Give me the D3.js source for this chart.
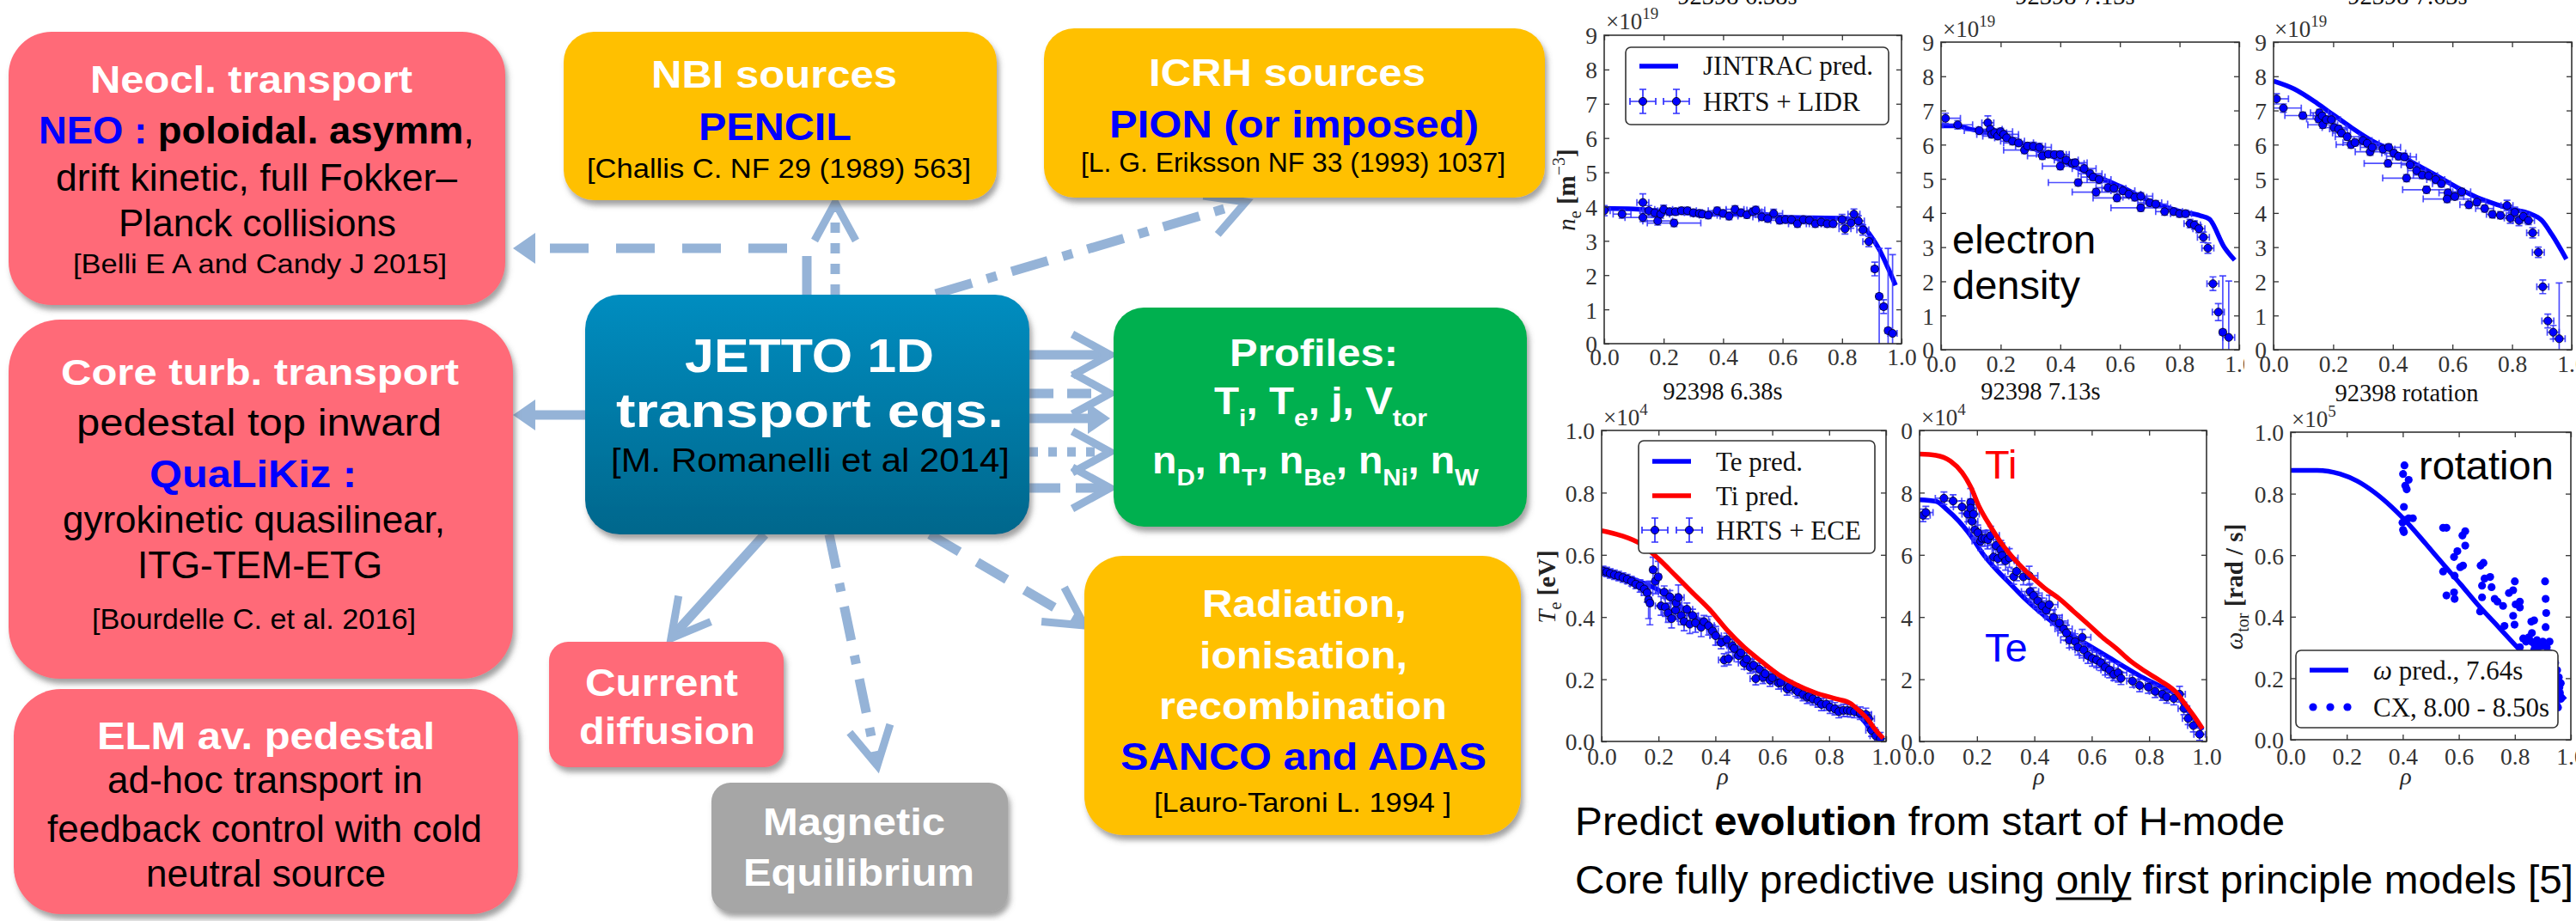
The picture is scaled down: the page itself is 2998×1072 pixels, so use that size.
<!DOCTYPE html>
<html><head><meta charset="utf-8">
<script src="https://cdn.jsdelivr.net/npm/d3@7"></script>
<style>html,body{margin:0;padding:0;background:#fff;overflow:hidden}svg{display:block}</style>
</head><body>
<script>
// ================= DATA =================
const rhoTicks=[0,0.2,0.4,0.6,0.8,1.0];
const rhoTickLabels=["0.0","0.2","0.4","0.6","0.8","1.0"];
const neTicks=[0,1,2,3,4,5,6,7,8,9];
const neTickLabels=["0","1","2","3","4","5","6","7","8","9"];
const teTicks=[0,0.2,0.4,0.6,0.8,1.0];
const teTickLabels=["0.0","0.2","0.4","0.6","0.8","1.0"];
const te2Ticks=[0,2,4,6,8,10];
const te2TickLabels=["0","2","4","6","8","0"];
const omTicks=[0,0.2,0.4,0.6,0.8,1.0];
const omTickLabels=["0.0","0.2","0.4","0.6","0.8","1.0"];
const topTitles=["92398 6.38s","92398 7.13s","92398 7.63s"];
const bottomTitles=["92398 6.38s","92398 7.13s","92398 rotation"];
const multipliers=["19","19","19","4","4","5"];

// electron density, 6.38 s  [rho, n/1e19]
const ne638Pred=[[0,3.95],[0.1,3.93],[0.2,3.86],[0.3,3.8],[0.4,3.78],[0.5,3.82],[0.55,3.76],[0.6,3.69],[0.7,3.67],[0.8,3.66],[0.84,3.6],[0.87,3.42],[0.9,3.1],[0.925,2.75],[0.955,2.2],[0.98,1.7]];
// [rho, n, xerr, yerr]
const ne638Data=[[0.0,3.88,0.02,0.15],[0.06,3.78,0.03,0.12],[0.13,4.12,0.02,0.25],[0.13,3.68,0.06,0.12],[0.15,3.88,0.03,0.15],[0.17,3.82,0.04,0.12],[0.18,3.58,0.05,0.12],[0.19,3.78,0.03,0.12],[0.2,3.92,0.03,0.12],[0.22,3.85,0.03,0.1],[0.235,3.52,0.09,0.1],[0.24,3.85,0.03,0.1],[0.26,3.88,0.03,0.1],[0.28,3.88,0.03,0.1],[0.3,3.82,0.03,0.1],[0.32,3.8,0.03,0.1],[0.33,3.78,0.03,0.1],[0.35,3.75,0.03,0.1],[0.38,3.88,0.03,0.1],[0.4,3.8,0.03,0.1],[0.42,3.72,0.03,0.1],[0.44,3.92,0.03,0.1],[0.46,3.82,0.03,0.1],[0.48,3.76,0.03,0.1],[0.5,3.85,0.03,0.1],[0.51,3.9,0.03,0.1],[0.53,3.7,0.03,0.1],[0.55,3.65,0.03,0.1],[0.57,3.8,0.03,0.12],[0.59,3.6,0.03,0.1],[0.61,3.62,0.03,0.1],[0.63,3.62,0.03,0.1],[0.65,3.5,0.03,0.1],[0.67,3.62,0.03,0.1],[0.69,3.6,0.03,0.1],[0.71,3.5,0.02,0.1],[0.73,3.55,0.02,0.1],[0.75,3.5,0.02,0.1],[0.77,3.5,0.02,0.1],[0.8,3.62,0.02,0.15],[0.81,3.35,0.02,0.15],[0.83,3.52,0.02,0.15],[0.84,3.78,0.02,0.15],[0.855,3.58,0.02,0.15],[0.87,3.32,0.02,0.15],[0.89,2.98,0.02,0.15],[0.91,2.18,0.01,0.2],[0.925,1.38,0.01,1.4],[0.94,1.08,0.01,0.2],[0.955,0.38,0.01,2.4],[0.97,0.3,0.015,2.3]];

// electron density, 7.13 s
const ne713Pred=[[0,6.55],[0.05,6.55],[0.1,6.45],[0.2,6.25],[0.3,5.92],[0.4,5.55],[0.5,5.15],[0.6,4.78],[0.7,4.35],[0.8,4.05],[0.87,3.92],[0.9,3.82],[0.95,3.0],[0.985,2.62]];
const ne713Data=[[0.015,6.77,0.05,0.15],[0.056,6.58,0.05,0.12],[0.128,6.41,0.05,0.1],[0.157,6.64,0.02,0.2],[0.165,6.45,0.04,0.1],[0.17,6.3,0.05,0.1],[0.18,6.35,0.04,0.1],[0.19,6.25,0.05,0.1],[0.2,6.38,0.04,0.1],[0.21,6.3,0.05,0.1],[0.22,6.2,0.04,0.1],[0.24,6.1,0.04,0.1],[0.26,6.05,0.05,0.1],[0.28,5.84,0.07,0.1],[0.29,5.96,0.04,0.1],[0.31,5.95,0.04,0.12],[0.33,5.92,0.04,0.12],[0.34,5.67,0.05,0.1],[0.36,5.72,0.04,0.1],[0.38,5.71,0.04,0.1],[0.4,5.71,0.03,0.1],[0.4,5.37,0.06,0.1],[0.42,5.55,0.04,0.1],[0.44,5.45,0.04,0.1],[0.45,5.47,0.04,0.1],[0.46,4.89,0.1,0.1],[0.48,5.3,0.04,0.1],[0.5,5.15,0.04,0.1],[0.51,5.05,0.04,0.1],[0.53,4.98,0.04,0.12],[0.52,4.61,0.08,0.1],[0.56,4.74,0.04,0.1],[0.58,4.72,0.04,0.1],[0.59,4.44,0.08,0.1],[0.61,4.65,0.04,0.1],[0.63,4.55,0.04,0.1],[0.65,4.46,0.04,0.1],[0.67,4.15,0.1,0.1],[0.67,4.49,0.04,0.1],[0.7,4.3,0.04,0.1],[0.72,4.26,0.04,0.1],[0.75,4.04,0.03,0.1],[0.78,4.04,0.03,0.1],[0.8,3.98,0.03,0.1],[0.82,3.98,0.02,0.1],[0.835,3.69,0.02,0.12],[0.85,3.65,0.02,0.12],[0.865,3.54,0.02,0.12],[0.88,3.29,0.02,0.15],[0.895,2.97,0.02,0.15],[0.912,1.93,0.02,0.2],[0.93,1.1,0.02,0.25],[0.945,0.51,0.01,1.65],[0.965,0.36,0.02,1.65]];

// electron density, 7.63 s
const ne763Pred=[[0,7.86],[0.069,7.63],[0.146,7.21],[0.199,6.88],[0.261,6.5],[0.329,6.12],[0.396,5.83],[0.472,5.45],[0.549,5.08],[0.617,4.74],[0.684,4.45],[0.751,4.24],[0.799,4.11],[0.857,3.99],[0.9,3.78],[0.934,3.36],[0.982,2.65]];
const ne763Data=[[0.01,7.34,0.04,0.15],[0.033,7.07,0.06,0.12],[0.098,6.85,0.06,0.1],[0.154,6.93,0.03,0.1],[0.151,6.75,0.04,0.1],[0.163,6.84,0.03,0.1],[0.165,6.58,0.05,0.1],[0.177,6.73,0.03,0.1],[0.194,6.73,0.03,0.1],[0.203,6.5,0.04,0.1],[0.218,6.46,0.03,0.1],[0.228,6.34,0.03,0.1],[0.247,6.23,0.04,0.1],[0.26,6.0,0.05,0.1],[0.273,6.06,0.04,0.1],[0.3,6.12,0.03,0.1],[0.314,6.04,0.04,0.1],[0.324,5.79,0.05,0.1],[0.331,5.92,0.04,0.1],[0.367,5.87,0.04,0.1],[0.384,5.45,0.08,0.1],[0.386,5.92,0.04,0.1],[0.403,5.75,0.04,0.1],[0.419,5.66,0.04,0.1],[0.439,5.64,0.04,0.1],[0.446,5.02,0.08,0.1],[0.458,5.41,0.03,0.1],[0.48,5.24,0.03,0.1],[0.499,5.11,0.03,0.1],[0.513,4.68,0.08,0.1],[0.52,5.09,0.03,0.1],[0.544,4.98,0.03,0.1],[0.563,4.86,0.03,0.1],[0.585,4.59,0.03,0.1],[0.582,4.41,0.08,0.1],[0.608,4.48,0.03,0.1],[0.631,4.62,0.03,0.1],[0.655,4.24,0.03,0.1],[0.682,4.32,0.03,0.1],[0.708,4.13,0.03,0.1],[0.734,3.96,0.02,0.1],[0.761,3.93,0.02,0.1],[0.783,4.22,0.02,0.15],[0.794,3.85,0.02,0.15],[0.809,4.02,0.02,0.15],[0.823,3.78,0.02,0.15],[0.838,3.9,0.02,0.12],[0.855,3.78,0.02,0.12],[0.869,3.42,0.02,0.15],[0.888,2.85,0.02,0.15],[0.903,1.84,0.02,0.2],[0.92,0.84,0.02,0.2],[0.938,0.51,0.02,0.2],[0.958,0.32,0.02,1.63]];

// temperatures, 6.38 s  [rho, T/1e4 eV]
const te638Pred=[[0,0.547],[0.119,0.519],[0.199,0.487],[0.28,0.432],[0.361,0.377],[0.441,0.312],[0.522,0.252],[0.602,0.206],[0.683,0.165],[0.763,0.128],[0.844,0.102],[0.894,0.091],[0.924,0.064],[0.954,0.027],[0.985,0.004]];
const ti638Pred=[[0,0.678],[0.068,0.662],[0.139,0.634],[0.199,0.588],[0.26,0.533],[0.32,0.478],[0.381,0.423],[0.441,0.358],[0.501,0.303],[0.562,0.257],[0.622,0.215],[0.683,0.183],[0.753,0.156],[0.824,0.137],[0.874,0.123],[0.904,0.1],[0.934,0.073],[0.964,0.036],[0.99,0.01]];
const te638Data=[[0.005,0.548,0.02,0.015],[0.018,0.545,0.02,0.015],[0.03,0.54,0.02,0.015],[0.045,0.536,0.02,0.015],[0.06,0.532,0.02,0.015],[0.075,0.527,0.02,0.015],[0.09,0.522,0.02,0.015],[0.105,0.515,0.02,0.015],[0.12,0.506,0.02,0.015],[0.135,0.5,0.02,0.02],[0.15,0.49,0.02,0.02],[0.16,0.478,0.02,0.03],[0.165,0.455,0.01,0.06],[0.17,0.445,0.01,0.07],[0.181,0.552,0.01,0.04],[0.189,0.515,0.01,0.04],[0.199,0.529,0.01,0.05],[0.209,0.436,0.02,0.03],[0.22,0.48,0.02,0.02],[0.224,0.432,0.02,0.03],[0.234,0.413,0.02,0.03],[0.24,0.465,0.02,0.02],[0.246,0.395,0.02,0.03],[0.26,0.422,0.02,0.03],[0.262,0.445,0.02,0.02],[0.27,0.463,0.02,0.04],[0.28,0.405,0.02,0.03],[0.29,0.386,0.02,0.03],[0.3,0.425,0.02,0.02],[0.31,0.377,0.02,0.03],[0.32,0.405,0.02,0.02],[0.33,0.381,0.02,0.03],[0.35,0.367,0.02,0.03],[0.36,0.385,0.02,0.02],[0.376,0.372,0.02,0.03],[0.39,0.355,0.02,0.02],[0.401,0.34,0.02,0.03],[0.42,0.318,0.02,0.02],[0.431,0.262,0.02,0.02],[0.44,0.328,0.02,0.02],[0.446,0.266,0.02,0.02],[0.46,0.308,0.02,0.02],[0.466,0.299,0.02,0.03],[0.481,0.276,0.02,0.02],[0.49,0.285,0.02,0.02],[0.501,0.252,0.02,0.02],[0.51,0.265,0.02,0.02],[0.522,0.239,0.02,0.02],[0.535,0.245,0.02,0.02],[0.542,0.202,0.02,0.02],[0.555,0.232,0.02,0.02],[0.567,0.206,0.02,0.02],[0.575,0.218,0.02,0.02],[0.592,0.197,0.02,0.02],[0.6,0.205,0.02,0.02],[0.622,0.188,0.02,0.02],[0.63,0.19,0.02,0.02],[0.652,0.169,0.02,0.02],[0.66,0.176,0.02,0.02],[0.683,0.165,0.02,0.02],[0.69,0.16,0.02,0.02],[0.708,0.151,0.02,0.02],[0.723,0.142,0.02,0.02],[0.73,0.145,0.02,0.02],[0.743,0.137,0.02,0.02],[0.76,0.13,0.02,0.02],[0.773,0.119,0.02,0.02],[0.79,0.12,0.02,0.02],[0.803,0.11,0.02,0.02],[0.82,0.105,0.02,0.02],[0.834,0.096,0.02,0.02],[0.85,0.1,0.02,0.02],[0.864,0.1,0.02,0.02],[0.875,0.098,0.02,0.02],[0.889,0.096,0.02,0.02],[0.909,0.091,0.02,0.02],[0.929,0.087,0.02,0.02],[0.939,0.073,0.02,0.02],[0.949,0.036,0.02,0.02],[0.964,0.018,0.02,0.02],[0.98,0.009,0.02,0.02]];

// temperatures, 7.13 s  [rho, T/1e4 eV]
const te713Pred=[[0,7.77],[0.057,7.72],[0.097,7.44],[0.137,7.08],[0.178,6.62],[0.218,6.07],[0.268,5.52],[0.317,5.06],[0.367,4.59],[0.417,4.18],[0.467,3.81],[0.517,3.49],[0.567,3.21],[0.617,2.94],[0.667,2.66],[0.717,2.38],[0.767,2.11],[0.816,1.88],[0.866,1.65],[0.896,1.51],[0.926,1.1],[0.956,0.73],[0.986,0.36]];
const ti713Pred=[[0,9.24],[0.057,9.2],[0.108,9.01],[0.148,8.65],[0.178,8.19],[0.208,7.54],[0.248,6.9],[0.287,6.35],[0.337,5.79],[0.387,5.33],[0.437,4.92],[0.487,4.59],[0.537,4.18],[0.587,3.77],[0.637,3.35],[0.687,2.98],[0.737,2.57],[0.787,2.25],[0.836,1.97],[0.896,1.56],[0.926,1.19],[0.956,0.82],[0.986,0.41]];
const te713Data=[[0.012,7.27,0.025,0.2],[0.022,7.36,0.025,0.2],[0.085,7.82,0.03,0.2],[0.117,7.73,0.03,0.2],[0.148,7.54,0.03,0.2],[0.168,7.31,0.02,0.25],[0.178,7.68,0.01,0.45],[0.178,7.5,0.02,0.3],[0.183,7.08,0.02,0.25],[0.188,7.31,0.02,0.3],[0.193,6.8,0.02,0.25],[0.203,6.71,0.03,0.25],[0.213,6.44,0.03,0.3],[0.218,6.53,0.03,0.25],[0.228,6.53,0.03,0.25],[0.238,6.49,0.03,0.3],[0.248,6.62,0.03,0.3],[0.258,5.93,0.03,0.3],[0.266,6.3,0.03,0.3],[0.273,5.88,0.03,0.3],[0.283,6.16,0.03,0.3],[0.288,5.98,0.03,0.3],[0.3,5.81,0.03,0.3],[0.313,5.9,0.03,0.3],[0.328,5.3,0.03,0.25],[0.338,5.47,0.03,0.3],[0.362,5.29,0.03,0.25],[0.382,5.33,0.03,0.3],[0.385,4.82,0.03,0.25],[0.397,4.69,0.03,0.25],[0.412,4.52,0.03,0.25],[0.427,4.36,0.03,0.25],[0.442,4.22,0.03,0.25],[0.452,4.4,0.03,0.3],[0.467,3.99,0.03,0.25],[0.487,3.81,0.03,0.25],[0.502,3.62,0.03,0.25],[0.512,3.49,0.03,0.25],[0.522,3.26,0.03,0.25],[0.542,3.21,0.03,0.25],[0.552,3.03,0.03,0.25],[0.567,3.35,0.03,0.25],[0.572,2.94,0.03,0.25],[0.587,2.76,0.03,0.25],[0.602,2.67,0.03,0.25],[0.617,2.62,0.03,0.25],[0.632,2.53,0.03,0.25],[0.647,2.39,0.03,0.25],[0.662,2.3,0.03,0.25],[0.677,2.16,0.03,0.2],[0.692,2.21,0.03,0.3],[0.702,2.03,0.03,0.2],[0.742,1.94,0.02,0.2],[0.767,1.8,0.02,0.2],[0.797,1.75,0.02,0.2],[0.821,1.61,0.02,0.2],[0.846,1.52,0.02,0.2],[0.861,1.43,0.02,0.2],[0.886,1.38,0.02,0.2],[0.906,1.52,0.02,0.25],[0.921,1.06,0.02,0.2],[0.936,0.74,0.02,0.2],[0.954,0.51,0.02,0.2],[0.976,0.23,0.02,0.2]];

// rotation [rho, omega/1e5 rad/s]
const omPred=[[0,0.876],[0.094,0.876],[0.176,0.864],[0.237,0.841],[0.299,0.804],[0.36,0.757],[0.421,0.701],[0.483,0.636],[0.544,0.571],[0.606,0.506],[0.667,0.44],[0.728,0.38],[0.79,0.319],[0.85,0.26],[0.9,0.21],[0.95,0.16],[0.98,0.13]];
const cxData=[[0.406,0.892],[0.401,0.864],[0.421,0.845],[0.409,0.826],[0.414,0.814],[0.404,0.757],[0.399,0.706],[0.401,0.682],[0.404,0.675],[0.421,0.72],[0.436,0.72],[0.41,0.715],[0.544,0.689],[0.556,0.689],[0.544,0.547],[0.556,0.469],[0.583,0.479],[0.585,0.458],[0.583,0.594],[0.595,0.613],[0.585,0.533],[0.605,0.561],[0.615,0.566],[0.623,0.678],[0.613,0.664],[0.623,0.631],[0.678,0.566],[0.688,0.575],[0.683,0.501],[0.683,0.463],[0.676,0.417],[0.692,0.524],[0.712,0.529],[0.717,0.496],[0.728,0.458],[0.738,0.449],[0.758,0.435],[0.763,0.37],[0.779,0.477],[0.794,0.486],[0.794,0.403],[0.799,0.374],[0.8,0.515],[0.803,0.44],[0.818,0.449],[0.818,0.43],[0.859,0.384],[0.869,0.388],[0.861,0.347],[0.908,0.515],[0.91,0.458],[0.912,0.412],[0.91,0.366],[0.83,0.329],[0.84,0.319],[0.85,0.333],[0.859,0.319],[0.879,0.324],[0.889,0.315],[0.9,0.319],[0.914,0.301],[0.924,0.282],[0.934,0.264],[0.944,0.25],[0.951,0.226],[0.957,0.203],[0.959,0.17],[0.961,0.152],[0.964,0.133],[0.949,0.114],[0.954,0.105],[0.964,0.184],[0.947,0.198],[0.944,0.16],[0.939,0.226],[0.818,0.301],[0.869,0.292],[0.884,0.301],[0.924,0.319],[0.87,0.31],[0.895,0.305]];

// ================= DIAGRAM CONTENT =================
// line spans: [text, style]  W=white bold, B=blue bold, K=black bold, k=black, s suffix = subscript
const diagramText={
 neocl:[[["Neocl. transport","W"]],[["NEO :","B"],[" poloidal. asymm","K"],[",","k"]],[["drift kinetic, full Fokker\u2013","k"]],[["Planck collisions","k"]],[["[Belli E A and Candy J 2015]","k"]]],
 core:[[["Core turb. transport","W"]],[["pedestal top inward","k"]],[["QuaLiKiz :","B"]],[["gyrokinetic quasilinear,","k"]],[["ITG-TEM-ETG","k"]],[["[Bourdelle C. et al. 2016]","k"]]],
 elm:[[["ELM av. pedestal","W"]],[["ad-hoc transport in","k"]],[["feedback control with cold","k"]],[["neutral source","k"]]],
 nbi:[[["NBI sources","W"]],[["PENCIL","B"]],[["[Challis C. NF 29 (1989) 563]","k"]]],
 icrh:[[["ICRH sources","W"]],[["PION (or imposed)","B"]],[["[L. G. Eriksson NF 33 (1993) 1037]","k"]]],
 jetto:[[["JETTO 1D","W"]],[["transport eqs.","W"]],[["[M. Romanelli et al 2014]","k"]]],
 profiles:[[["Profiles:","W"]],[["T","W"],["i","Ws"],[", T","W"],["e","Ws"],[", j, V","W"],["tor","Ws"]],[["n","W"],["D","Ws"],[", n","W"],["T","Ws"],[", n","W"],["Be","Ws"],[", n","W"],["Ni","Ws"],[", n","W"],["W","Ws"]]],
 radiation:[[["Radiation,","W"]],[["ionisation,","W"]],[["recombination","W"]],[["SANCO and ADAS","B"]],[["[Lauro-Taroni L. 1994 ]","k"]]],
 current:[[["Current","W"]],[["diffusion","W"]]],
 magnetic:[[["Magnetic","W"]],[["Equilibrium","W"]]]
};
const bottomLine1=[["Predict ",""],["evolution","b"],[" from start of H-mode",""]];
const bottomLine2="Core fully predictive using only first principle models [5]";

// ================= LAYOUT / STYLE =================
const W=2998,H=1072;
const SERIF="'Liberation Serif','DejaVu Serif',serif";
const SANS="'Liberation Sans',Arial,sans-serif";
const PINK='#FF6B78',ORANGE='#FFC000',GREEN='#00B050',GRAY='#A6A6A6',AC='#95B3D7';
const BLUE='#0000ff',RED='#ff0000',EB='#3030ff';
const TICKFS=27.5;

const svg=d3.select('body').append('svg').attr('width',W).attr('height',H);
const defs=svg.append('defs');
const flt=defs.append('filter').attr('id','shadow').attr('x','-10%').attr('y','-10%').attr('width','125%').attr('height','135%');
flt.append('feDropShadow').attr('dx',3).attr('dy',6).attr('stdDeviation',3).attr('flood-color','#555').attr('flood-opacity',0.55);
const lg=defs.append('linearGradient').attr('id','jgrad').attr('x1',0).attr('y1',0).attr('x2',0).attr('y2',1);
lg.append('stop').attr('offset','0%').attr('stop-color','#008DC0');
lg.append('stop').attr('offset','100%').attr('stop-color','#00678C');

// ---------- arrows ----------
const arrowSpecs=[
 {pts:[[939,343],[939,289],[622,289]],dash:'45,32',head:'tri',tip:[597,289]},
 {pts:[[972,343],[972,242]],dash:'12,12',head:'chev',tip:[972,236]},
 {pts:[[1089,342],[1442,238]],dash:'44,18,12,18',head:'chev',tip:[1450,235]},
 {pts:[[681,483],[622,483]],dash:null,head:'tri',tip:[597,483]},
 {pts:[[1198,413],[1286,413]],dash:null,head:'chev',tip:[1292,413]},
 {pts:[[1198,458],[1286,458]],dash:'28,16',head:'chev',tip:[1292,458]},
 {pts:[[1198,487],[1266,487]],dash:null,head:'tri',tip:[1292,487]},
 {pts:[[1198,526],[1286,526]],dash:'10,12',head:'chev',tip:[1292,526]},
 {pts:[[1198,568],[1286,568]],dash:'36,18',head:'chev',tip:[1292,568]},
 {pts:[[890,622],[785,738]],dash:null,head:'chev',tip:[781,743]},
 {pts:[[965,622],[1020,886]],dash:'40,18,10,18',head:'chev',tip:[1021,891]},
 {pts:[[1082,622],[1256,724]],dash:'40,24',head:'chev',tip:[1262,728]}
];
const ag=svg.append('g');
arrowSpecs.forEach(a=>{
  ag.append('path').attr('d',d3.line()(a.pts)).attr('fill','none').attr('stroke',AC).attr('stroke-width',11)
    .attr('stroke-dasharray',a.dash);
  const last=a.pts[a.pts.length-1];
  const ang=Math.atan2(a.tip[1]-last[1],a.tip[0]-last[0]);
  const px=-Math.sin(ang),py=Math.cos(ang);
  if(a.head==='tri'){
    const len=26,half=18;
    const bx=a.tip[0]-len*Math.cos(ang),by=a.tip[1]-len*Math.sin(ang);
    ag.append('path').attr('d',`M${a.tip[0]},${a.tip[1]}L${bx+half*px},${by+half*py}L${bx-half*px},${by-half*py}Z`).attr('fill',AC);
  }else{
    const len=44,half=24;
    const bx=a.tip[0]-len*Math.cos(ang),by=a.tip[1]-len*Math.sin(ang);
    ag.append('path').attr('d',`M${bx+half*px},${by+half*py}L${a.tip[0]},${a.tip[1]}L${bx-half*px},${by-half*py}`)
      .attr('fill','none').attr('stroke',AC).attr('stroke-width',9).attr('stroke-linejoin','miter');
  }
});

// ---------- boxes ----------
const boxLayout=[
 {k:'neocl',x:10,y:37,w:578,h:318,r:50,fill:PINK,lines:[[105,108,375,44],[45,167,507,44],[65,222,467,44],[138,275,323,44],[85,318,435,32]]},
 {k:'core',x:10,y:372,w:587,h:418,r:60,fill:PINK,lines:[[71,448,463,42],[89,507,425,44],[174,567,241,44],[73,620,445,44],[160,673,285,44],[107,732,377,33]]},
 {k:'elm',x:16,y:802,w:587,h:262,r:55,fill:PINK,lines:[[113,872,393,44],[125,923,367,44],[55,980,506,44],[170,1032,279,44]]},
 {k:'nbi',x:656,y:37,w:504,h:196,r:35,fill:ORANGE,lines:[[758,102,286,44],[813,163,178,44],[683,207,447,31]]},
 {k:'icrh',x:1215,y:33,w:583,h:197,r:35,fill:ORANGE,lines:[[1337,100,322,44],[1291,160,430,44],[1258,200,494,31]]},
 {k:'jetto',x:681,y:343,w:517,h:279,r:40,fill:'url(#jgrad)',lines:[[797,433,290,56],[717,497,451,56],[711,549,464,38]]},
 {k:'profiles',x:1296,y:358,w:481,h:255,r:35,fill:GREEN,lines:[[1431,426,196,44],[1413,482,248,44],[1341,551,380,44]]},
 {k:'radiation',x:1262,y:647,w:508,h:325,r:45,fill:ORANGE,lines:[[1399,718,238,44],[1396,778,242,44],[1349,837,335,44],[1304,896,426,44],[1343,945,346,32]]},
 {k:'current',x:639,y:747,w:273,h:146,r:22,fill:PINK,lines:[[681,810,178,44],[674,866,205,44]]},
 {k:'magnetic',x:828,y:911,w:345,h:150,r:22,fill:GRAY,lines:[[888,972,212,44],[865,1031,269,44]]}
];
const bg=svg.append('g');
function textLine(g,pos,spans){
  const [x,y,w,s]=pos;
  const t=g.append('text').attr('x',x).attr('y',y).attr('font-family',SANS).attr('font-size',s)
    .attr('textLength',w).attr('lengthAdjust','spacingAndGlyphs').style('white-space','pre');
  let shift=0;
  spans.forEach(([txt,st])=>{
    const ts=t.append('tspan').text(txt);
    const c=st[0];
    ts.attr('fill',c==='W'?'#fff':c==='B'?'#0000ff':'#000');
    if(c!=='k') ts.attr('font-weight','bold');
    const sub=st.length>1&&st[1]==='s';
    const target=sub?Math.round(s*0.32):0;
    if(target!==shift){ts.attr('dy',target-shift);shift=target;}
    if(sub) ts.attr('font-size',Math.round(s*0.64));
  });
}
boxLayout.forEach(b=>{
  bg.append('rect').attr('x',b.x).attr('y',b.y).attr('width',b.w).attr('height',b.h).attr('rx',b.r).attr('ry',b.r)
    .attr('fill',b.fill).attr('filter','url(#shadow)');
  diagramText[b.k].forEach((sp,i)=>textLine(bg,b.lines[i],sp));
});

// ================= PLOTS =================
function errorMarkers(g,x,y,data){
  const eg=g.append('g').attr('stroke',EB).attr('stroke-width',1.7).attr('stroke-opacity',0.85);
  eg.selectAll(null).data(data).join('line').attr('x1',d=>x(d[0]-d[2])).attr('x2',d=>x(d[0]+d[2])).attr('y1',d=>y(d[1])).attr('y2',d=>y(d[1]));
  eg.selectAll(null).data(data).join('line').attr('x1',d=>x(d[0])).attr('x2',d=>x(d[0])).attr('y1',d=>y(d[1]+d[3])).attr('y2',d=>y(d[1]-d[3]));
  eg.selectAll(null).data(data).join('path').attr('fill','none').attr('d',d=>{
    const xl=x(d[0]-d[2]),xr=x(d[0]+d[2]),yt=y(d[1]+d[3]),yb=y(d[1]-d[3]),cx=x(d[0]),cy=y(d[1]);
    return `M${xl},${cy-4}V${cy+4}M${xr},${cy-4}V${cy+4}M${cx-4},${yt}H${cx+4}M${cx-4},${yb}H${cx+4}`;});
  g.append('g').selectAll(null).data(data).join('circle').attr('cx',d=>x(d[0])).attr('cy',d=>y(d[1])).attr('r',4.6)
    .attr('fill',BLUE).attr('stroke','#000').attr('stroke-width',0.8);
}
function predLine(g,x,y,data,color){
  g.append('path').datum(data).attr('d',d3.line().x(d=>x(d[0])).y(d=>y(d[1])).curve(d3.curveMonotoneX))
    .attr('fill','none').attr('stroke',color).attr('stroke-width',5.5).attr('stroke-linejoin','round');
}
function legendBox(g,x,y,w,h){
  g.append('rect').attr('x',x).attr('y',y).attr('width',w).attr('height',h).attr('rx',6).attr('fill','#fff').attr('stroke','#333').attr('stroke-width',1.6);
}
function legendMarker(g,cx,cy){
  g.append('path').attr('d',`M${cx-15},${cy}H${cx+15}M${cx},${cy-14}V${cy+14}M${cx-15},${cy-4}V${cy+4}M${cx+15},${cy-4}V${cy+4}M${cx-4},${cy-14}H${cx+4}M${cx-4},${cy+14}H${cx+4}`)
    .attr('stroke',EB).attr('stroke-width',1.7).attr('fill','none');
  g.append('circle').attr('cx',cx).attr('cy',cy).attr('r',4.6).attr('fill',BLUE).attr('stroke','#000').attr('stroke-width',0.8);
}
function legendText(g,x,y,txt){
  return g.append('text').attr('x',x).attr('y',y).attr('font-family',SERIF).attr('font-size',31).attr('fill','#111').text(txt);
}
function sansLabel(g,x,y,txt,color){
  g.append('text').attr('x',x).attr('y',y).attr('font-family',SANS).attr('font-size',47).attr('fill',color).text(txt);
}

function drawPanel(c){
  const g=svg.append('g');
  if(c.cover) g.append('rect').attr('x',c.cover[0]).attr('y',c.cover[1]).attr('width',c.cover[2]).attr('height',c.cover[3]).attr('fill','#fff');
  const x=d3.scaleLinear().domain([0,1]).range([c.x0,c.x1]);
  const y=d3.scaleLinear().domain(c.ydom).range([c.y1,c.y0]);
  const cid='clip-'+c.id;
  defs.append('clipPath').attr('id',cid).append('rect').attr('x',c.x0).attr('y',c.y0).attr('width',c.x1-c.x0).attr('height',c.y1-c.y0);
  const inner=g.append('g').attr('clip-path',`url(#${cid})`);
  c.draw(inner,x,y,g);
  const tk=6;
  const st=s=>{s.select('.domain').remove();s.selectAll('line').attr('stroke','#333').attr('stroke-width',1.3);
    s.selectAll('text').attr('font-family',SERIF).attr('font-size',TICKFS).attr('fill','#333');};
  g.append('g').attr('transform',`translate(0,${c.y1})`)
    .call(d3.axisBottom(x).tickValues(rhoTicks).tickFormat((d,i)=>rhoTickLabels[i]).tickSizeInner(-tk).tickSizeOuter(0))
    .call(st).call(s=>s.selectAll('text').attr('y',c.xlOff).attr('dy',null));
  g.append('g').attr('transform',`translate(0,${c.y0})`)
    .call(d3.axisTop(x).tickValues(rhoTicks).tickFormat('').tickSizeInner(-tk).tickSizeOuter(0)).call(st);
  g.append('g').attr('transform',`translate(${c.x0},0)`)
    .call(d3.axisLeft(y).tickValues(c.yt).tickFormat((d,i)=>c.yl[i]).tickSizeInner(-tk).tickSizeOuter(0))
    .call(st).call(s=>s.selectAll('text').attr('x',-8).attr('dy','0.36em'));
  g.append('g').attr('transform',`translate(${c.x1},0)`)
    .call(d3.axisRight(y).tickValues(c.yt).tickFormat('').tickSizeInner(-tk).tickSizeOuter(0)).call(st);
  g.append('rect').attr('x',c.x0).attr('y',c.y0).attr('width',c.x1-c.x0).attr('height',c.y1-c.y0)
    .attr('fill','none').attr('stroke','#333').attr('stroke-width',1.6);
  const m=g.append('text').attr('x',c.mx).attr('y',c.my).attr('font-family',SERIF).attr('font-size',27).attr('fill','#333');
  m.append('tspan').text('\u00d710');
  m.append('tspan').text(c.mult).attr('font-size',19).attr('dy',-12);
  g.append('text').attr('x',c.tx).attr('y',c.ty).attr('text-anchor','middle').attr('font-family',SERIF)
    .attr('font-size',28.5).attr('fill','#111').text(c.title);
  if(c.xlab) g.append('text').attr('x',c.xlab[0]).attr('y',c.xlab[1]).attr('text-anchor','middle').attr('font-family',SERIF)
    .attr('font-style','italic').attr('font-size',28).attr('fill','#2a2a2a').text('\u03c1');
  if(c.ylab){
    const t=g.append('text').attr('transform',`translate(${c.ylab.x},${c.ylab.y}) rotate(-90)`).attr('text-anchor','middle')
      .attr('font-family',SERIF).attr('font-size',29).attr('fill','#222');
    let sh=0;
    c.ylab.spans.forEach(([txt,k])=>{
      const ts=t.append('tspan').text(txt);
      const target=k==='sub'?7:k==='sup'?-12:0;
      if(target!==sh){ts.attr('dy',target-sh);sh=target;}
      if(k==='sub'||k==='sup') ts.attr('font-size',20);
      if(k==='it') ts.attr('font-style','italic');
      if(k==='bf') ts.attr('font-weight','bold');
    });
  }
  if(c.legend) c.legend(g);
}

const panels=[
 {id:'p1',x0:1867,x1:2213,y0:41,y1:400,ydom:[0,9],yt:neTicks,yl:neTickLabels,xlOff:25,mult:multipliers[0],mx:1869,my:34,title:topTitles[0],tx:2022,ty:5,
  ylab:{x:1833,y:221,spans:[['n','it'],['e','sub'],[' [m','bf'],['\u22123','sup'],[']','bf']]},
  draw:(g,x,y)=>{predLine(g,x,y,ne638Pred,BLUE);errorMarkers(g,x,y,ne638Data);},
  legend:g=>{legendBox(g,1892,55,306,90);
    g.append('line').attr('x1',1908).attr('x2',1953).attr('y1',77).attr('y2',77).attr('stroke',BLUE).attr('stroke-width',5.5);
    legendText(g,1982,87,'JINTRAC pred.');legendMarker(g,1912,118);legendMarker(g,1951,118);legendText(g,1982,129,'HRTS + LIDR');}},
 {id:'p2',x0:2259,x1:2606,y0:49,y1:407,ydom:[0,9],yt:neTicks,yl:neTickLabels,xlOff:26,mult:multipliers[1],mx:2261,my:43,title:topTitles[1],tx:2415,ty:5,
  draw:(g,x,y,outer)=>{predLine(g,x,y,ne713Pred,BLUE);errorMarkers(g,x,y,ne713Data);
    sansLabel(outer,2272,295,'electron','#000');sansLabel(outer,2272,348,'density','#000');}},
 {id:'p3',x0:2646,x1:2993,y0:49,y1:407,ydom:[0,9],yt:neTicks,yl:neTickLabels,xlOff:26,mult:multipliers[2],mx:2647,my:43,title:topTitles[2],tx:2802,ty:5,
  cover:[2612,0,386,470],
  draw:(g,x,y)=>{predLine(g,x,y,ne763Pred,BLUE);errorMarkers(g,x,y,ne763Data);}},
 {id:'p4',x0:1864,x1:2195,y0:501,y1:863,ydom:[0,1],yt:teTicks,yl:teTickLabels,xlOff:27,mult:multipliers[3],mx:1866,my:495,title:bottomTitles[0],tx:2005,ty:465,
  xlab:[2005,913],ylab:{x:1810,y:683,spans:[['T','it'],['e','sub'],[' [eV]','bf']]},
  draw:(g,x,y)=>{predLine(g,x,y,te638Pred,BLUE);errorMarkers(g,x,y,te638Data);predLine(g,x,y,ti638Pred,RED);},
  legend:g=>{legendBox(g,1907,513,275,131);
    g.append('line').attr('x1',1923).attr('x2',1968).attr('y1',537).attr('y2',537).attr('stroke',BLUE).attr('stroke-width',5.5);
    legendText(g,1997,548,'Te pred.');
    g.append('line').attr('x1',1923).attr('x2',1968).attr('y1',577).attr('y2',577).attr('stroke',RED).attr('stroke-width',5.5);
    legendText(g,1997,588,'Ti pred.');
    legendMarker(g,1926,617);legendMarker(g,1966,617);legendText(g,1997,628,'HRTS + ECE');}},
 {id:'p5',x0:2234,x1:2568,y0:501,y1:863,ydom:[0,10],yt:te2Ticks,yl:te2TickLabels,xlOff:27,mult:multipliers[4],mx:2236,my:495,title:bottomTitles[1],tx:2375,ty:465,
  xlab:[2373,913],
  draw:(g,x,y,outer)=>{predLine(g,x,y,te713Pred,BLUE);errorMarkers(g,x,y,te713Data);predLine(g,x,y,ti713Pred,RED);
    sansLabel(outer,2310,557,'Ti',RED);sansLabel(outer,2310,770,'Te',BLUE);}},
 {id:'p6',x0:2666,x1:2992,y0:503,y1:861,ydom:[0,1],yt:omTicks,yl:omTickLabels,xlOff:29,mult:multipliers[5],mx:2667,my:497,title:bottomTitles[2],tx:2801,ty:467,
  xlab:[2800,913],ylab:{x:2610,y:683,spans:[['\u03c9','it'],['tor','sub'],[' [rad / s]','bf']]},
  draw:(g,x,y,outer)=>{predLine(g,x,y,omPred,BLUE);
    g.append('g').selectAll(null).data(cxData).join('circle').attr('cx',d=>x(d[0])).attr('cy',d=>y(d[1])).attr('r',4.6).attr('fill',BLUE);
    sansLabel(outer,2815,558,'rotation','#000');},
  legend:g=>{legendBox(g,2672,757,305,90);
    g.append('line').attr('x1',2688).attr('x2',2733).attr('y1',780).attr('y2',780).attr('stroke',BLUE).attr('stroke-width',5.5);
    const t=legendText(g,2762,791,'');t.append('tspan').attr('font-style','italic').text('\u03c9');t.append('tspan').text(' pred., 7.64s');
    [2692,2712,2732].forEach(cx=>g.append('circle').attr('cx',cx).attr('cy',823).attr('r',4.6).attr('fill',BLUE));
    legendText(g,2762,834,'CX, 8.00 - 8.50s');}}
];
panels.forEach(drawPanel);

// ---------- bottom text ----------
const bt1=svg.append('text').attr('x',1833).attr('y',972).attr('font-family',SANS).attr('font-size',47).attr('fill','#000')
  .attr('textLength',826).attr('lengthAdjust','spacingAndGlyphs').style('white-space','pre');
bottomLine1.forEach(([t,s])=>{const ts=bt1.append('tspan').text(t);if(s==='b')ts.attr('font-weight','bold');});
const bt2=svg.append('text').attr('x',1833).attr('y',1040).attr('font-family',SANS).attr('font-size',47).attr('fill','#000')
  .attr('textLength',1162).attr('lengthAdjust','spacingAndGlyphs').style('white-space','pre').text(bottomLine2);
const oi=bottomLine2.indexOf('only');
try{
  const n=bt2.node();
  const sx=n.getStartPositionOfChar(oi).x, ex=n.getEndPositionOfChar(oi+3).x;
  svg.append('line').attr('x1',sx).attr('x2',ex).attr('y1',1046).attr('y2',1046).attr('stroke','#000').attr('stroke-width',3);
}catch(e){}
</script>
</body></html>
